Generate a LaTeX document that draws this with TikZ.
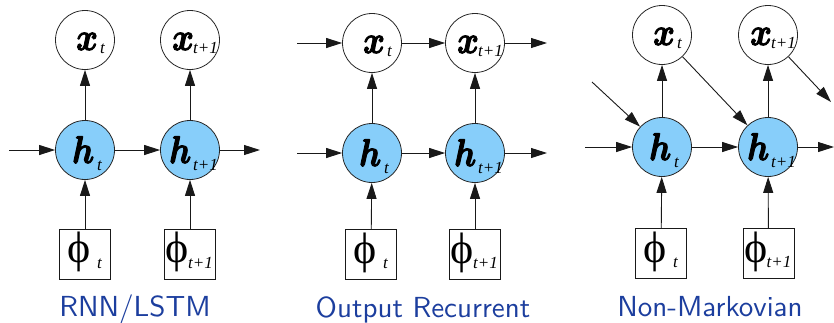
\documentclass[tikz,border=0pt]{standalone}
\usepackage{bm}
\usepackage{fontspec}
\newfontfamily\tnr{Liberation Serif}
\newfontfamily\tnri{Liberation Serif}[UprightFont={* Italic}]
\newfontfamily\capfont{lmsans10-regular}[Extension=.otf]
\usetikzlibrary{arrows.meta}
\definecolor{hblue}{RGB}{135,206,250}
\definecolor{lblue}{RGB}{28,62,158}
\newcommand{\heavytext}[1]{\special{pdf:literal direct 2 Tr 0.28 w}#1\special{pdf:literal direct 0 Tr}}
\newcommand{\bigletter}[1]{\scalebox{3.3}[3.85]{\heavytext{$\bm{#1}$}}}
\newcommand{\subtxt}[1]{{\tnri\fontsize{17}{17}\selectfont #1}}
\newcommand{\phitxt}{{\tnr\fontsize{44}{44}\selectfont\symbol{"03D5}}}
\begin{document}
\begin{tikzpicture}[x=1pt,y=-1pt,
  xnode/.style={circle,draw=black!85,line width=0.8pt,minimum size=59pt,inner sep=0pt},
  hnode/.style={xnode,fill=hblue},
  pbox/.style={rectangle,draw=black!90,line width=0.9pt,minimum width=51pt,minimum height=50pt,inner sep=0pt},
  txt/.style={inner sep=0pt,anchor=base west},
  arr/.style={draw=black!90,line width=0.9pt,-{Triangle[length=16pt,width=10pt]}},
  caption/.style={inner sep=0pt,anchor=base,text=lblue,font=\capfont\fontsize{29}{29}\selectfont}]
\useasboundingbox (0,0) rectangle (834,322);
% ---------------- Panel 1 ----------------
\node[xnode] (ax1) at (85,40) {};
\node[xnode] (ax2) at (190,40) {};
\node[hnode] (ah1) at (85,150) {};
\node[hnode] (ah2) at (190,150) {};
\node[pbox] (ab1) at (85,254) {};
\node[pbox] (ab2) at (190,254) {};
\coordinate (ain) at (9,150);
\coordinate (aout) at (260,150);
\draw[arr] (ah1) -- (ax1);
\draw[arr] (ah2) -- (ax2);
\draw[arr] (ab1) -- (ah1);
\draw[arr] (ab2) -- (ah2);
\draw[arr] (ain) -- (ah1);
\draw[arr] (ah1) -- (ah2);
\draw[arr] (ah2) -- (aout);
\node[txt] (ax1l) at (76,50) {\bigletter{x}};
\node[txt] (ax1s) at (100,53) {\subtxt{t}};
\node[txt] (ax2l) at (172,50) {\bigletter{x}};
\node[txt] (ax2s) at (193,53) {\subtxt{t+1}};
\node[txt] (ah1l) at (72,163) {\bigletter{h}};
\node[txt] (ah1s) at (97,170) {\subtxt{t}};
\node[txt] (ah2l) at (169,163) {\bigletter{h}};
\node[txt] (ah2s) at (193,170) {\subtxt{t+1}};
\node[inner sep=0pt] (ab1p) at (79,252) {\phitxt};
\node[txt] (ab1s) at (97,268) {\subtxt{t}};
\node[inner sep=0pt] (ab2p) at (177.5,252) {\phitxt};
\node[txt] (ab2s) at (188,268) {\subtxt{t+1}};
\node[caption] (acap) at (135,316) {RNN/LSTM};
% ---------------- Panel 2 ----------------
\node[xnode] (bx1) at (372,43) {};
\node[xnode] (bx2) at (475,43) {};
\node[hnode] (bh1) at (372,153) {};
\node[hnode] (bh2) at (475,153) {};
\node[pbox] (bb1) at (371,254.5) {};
\node[pbox] (bb2) at (475,254.5) {};
\coordinate (bxin) at (297,43);
\coordinate (bxout) at (547,43);
\coordinate (bhin) at (297,153);
\coordinate (bhout) at (547,153);
\draw[arr] (bh1) -- (bx1);
\draw[arr] (bh2) -- (bx2);
\draw[arr] (bb1) -- (bh1);
\draw[arr] (bb2) -- (bh2);
\draw[arr] (bxin) -- (bx1);
\draw[arr] (bx1) -- (bx2);
\draw[arr] (bx2) -- (bxout);
\draw[arr] (bhin) -- (bh1);
\draw[arr] (bh1) -- (bh2);
\draw[arr] (bh2) -- (bhout);
\node[txt] (bx1l) at (363,53) {\bigletter{x}};
\node[txt] (bx1s) at (387,56) {\subtxt{t}};
\node[txt] (bx2l) at (457,53) {\bigletter{x}};
\node[txt] (bx2s) at (478,56) {\subtxt{t+1}};
\node[txt] (bh1l) at (359,166) {\bigletter{h}};
\node[txt] (bh1s) at (384,173) {\subtxt{t}};
\node[txt] (bh2l) at (454,166) {\bigletter{h}};
\node[txt] (bh2s) at (478,173) {\subtxt{t+1}};
\node[inner sep=0pt] (bb1p) at (365,252.5) {\phitxt};
\node[txt] (bb1s) at (383,268.5) {\subtxt{t}};
\node[inner sep=0pt] (bb2p) at (462.5,252.5) {\phitxt};
\node[txt] (bb2s) at (473,268.5) {\subtxt{t+1}};
\node[caption] (bcap) at (423,317) {Output Recurrent};
% ---------------- Panel 3 ----------------
\node[xnode] (cx1) at (662,35) {};
\node[xnode] (cx2) at (768,35) {};
\node[hnode] (ch1) at (662,147) {};
\node[hnode] (ch2) at (768,147) {};
\node[pbox] (cb1) at (661,253.5) {};
\node[pbox] (cb2) at (768.5,253.5) {};
\coordinate (chin) at (585,147);
\coordinate (chout) at (834,147);
\coordinate (cdin) at (592,82);
\coordinate (cdout) at (831,102);
\draw[arr] (ch1) -- (cx1);
\draw[arr] (ch2) -- (cx2);
\draw[arr] (cb1) -- (ch1);
\draw[arr] (cb2) -- (ch2);
\draw[arr] (chin) -- (ch1);
\draw[arr] (ch1) -- (ch2);
\draw[arr] (ch2) -- (chout);
\draw[arr] (cdin) -- (ch1);
\draw[arr] (cx1) -- (ch2);
\draw[arr] (cx2) -- (cdout);
\node[txt] (cx1l) at (653,45) {\bigletter{x}};
\node[txt] (cx1s) at (677,48) {\subtxt{t}};
\node[txt] (cx2l) at (750,45) {\bigletter{x}};
\node[txt] (cx2s) at (771,48) {\subtxt{t+1}};
\node[txt] (ch1l) at (649,160) {\bigletter{h}};
\node[txt] (ch1s) at (674,167) {\subtxt{t}};
\node[txt] (ch2l) at (747,160) {\bigletter{h}};
\node[txt] (ch2s) at (771,167) {\subtxt{t+1}};
\node[inner sep=0pt] (cb1p) at (655,251.5) {\phitxt};
\node[txt] (cb1s) at (673,267.5) {\subtxt{t}};
\node[inner sep=0pt] (cb2p) at (756,251.5) {\phitxt};
\node[txt] (cb2s) at (766.5,267.5) {\subtxt{t+1}};
\node[caption] (ccap) at (710,316) {Non-Markovian};
\end{tikzpicture}
\end{document}
